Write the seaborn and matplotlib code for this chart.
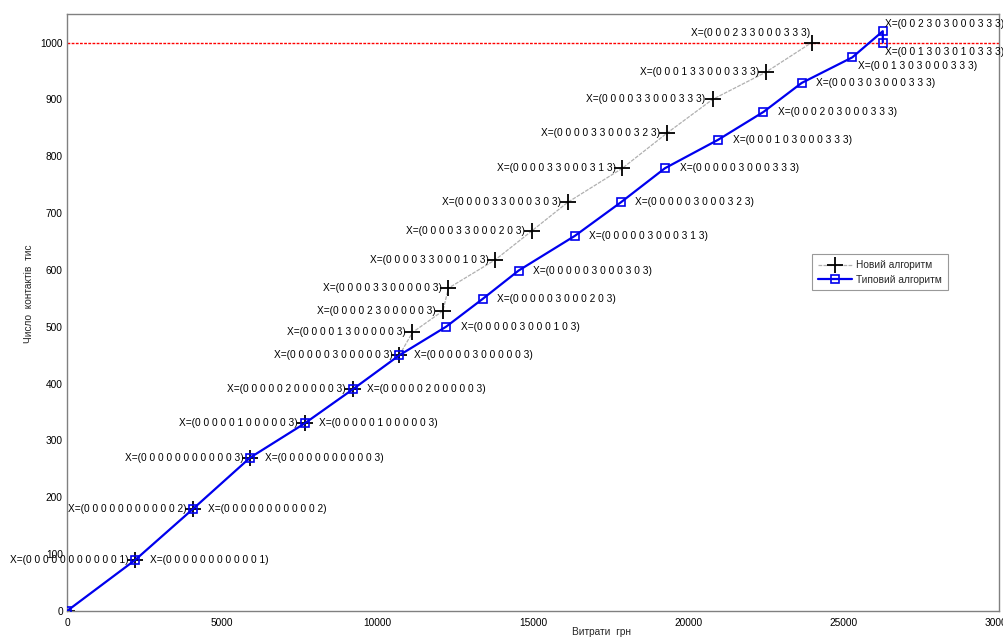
import numpy as np
import pandas as pd
import matplotlib
matplotlib.use("Agg")
import matplotlib.pyplot as plt
import seaborn as sns

# Новий алгоритм (black +, grey line)
new_x = [0, 2200, 4065, 5900, 7650, 9200, 10700, 11120, 12100, 12280,
         13790, 14970, 16120, 17880, 19320, 20780, 22500, 23970]
new_y = [0, 90, 180, 270, 330, 390, 450, 490, 528, 568,
         618, 669, 719, 779, 841, 900, 948, 1000]
new_codes = [None, "000000000001", "000000000002", "000000000003",
             "000001000003", "000002000003", "000003000003", "000013000003",
             "000023000003", "000033000003", "000033000103", "000033000203",
             "000033000303", "000033000313", "000033000323", "000033000333",
             "000133000333", "000233000333"]

# Типовий алгоритм (blue squares)
typ_x = [0, 2200, 4065, 5900, 7650, 9200, 10700, 12200, 13380, 14540,
         16350, 17830, 19250, 20960, 22420, 23650, 25280, 26260, 26260]
typ_y = [0, 90, 180, 270, 330, 390, 450, 500, 549, 599,
         660, 719, 779, 829, 878, 929, 974, 1020, 1000]
typ_codes = [None, "000000000001", "000000000002", "000000000003",
             "000001000003", "000002000003", "000003000003", "000003000103",
             "000003000203", "000003000303", "000003000313", "000003000323",
             "000003000333", "000103000333", "000203000333", "000303000333",
             "001303000333", "002303000333", "001303010333"]

x_ticks = list(range(0, 30001, 5000))
y_ticks = list(range(0, 1001, 100))
limit_y = 1000


def fmt(code):
    return "X=(" + " ".join(code) + ")"


sns.set_theme(style="white")
plt.rcParams["font.family"] = ["Liberation Sans", "DejaVu Sans"]
fs = 7.3

fig = plt.figure(figsize=(10.04, 6.37), dpi=100)
fig.patch.set_facecolor("white")
ax = fig.add_axes([0.0667, 0.0408, 0.9283, 0.937])

df_new = pd.DataFrame({"x": new_x, "y": new_y})
df_typ = pd.DataFrame({"x": typ_x, "y": typ_y})

ax.axhline(limit_y, color="#ff0000", linestyle=(0, (2, 1)), lw=1.0, zorder=1)

sns.lineplot(data=df_new, x="x", y="y", sort=False, estimator=None, ax=ax,
             color="#b0b0b0", lw=0.9, linestyle=(0, (3, 1)), marker="+",
             markersize=11, markeredgecolor="black", markerfacecolor="black",
             markeredgewidth=1.3, label="Новий алгоритм", zorder=2)
sns.lineplot(data=df_typ, x="x", y="y", sort=False, estimator=None, ax=ax,
             color="#0000ee", lw=1.6, marker="s", markersize=5.5,
             markeredgecolor="#0000ee", markerfacecolor="none",
             markeredgewidth=1.2, label="Типовий алгоритм", zorder=3)

# labels for new algorithm: to the left of the marker
for i, (x, y, c) in enumerate(zip(new_x, new_y, new_codes)):
    if c is None:
        continue
    dx, dy = -5, 0
    if i == len(new_x) - 1:
        dx, dy = -1, 7
    ax.annotate(fmt(c), (x, y), xytext=(dx, dy), textcoords="offset points",
                ha="right", va="center", fontsize=fs, color="black")

# labels for typical algorithm: to the right of the marker
special = {16: (4, -6.5), 17: (1.5, 5), 18: (1.5, -6.5)}
for i, (x, y, c) in enumerate(zip(typ_x, typ_y, typ_codes)):
    if c is None:
        continue
    dx, dy = special.get(i, (10.5, 0))
    ax.annotate(fmt(c), (x, y), xytext=(dx, dy), textcoords="offset points",
                ha="left", va="center", fontsize=fs, color="black")

ax.set_xlim(0, 30000)
ax.set_ylim(0, 1050)
ax.set_xticks(x_ticks)
ax.set_yticks(y_ticks)
ax.tick_params(axis="both", direction="in", length=6.5, width=0.8,
               color="#808080", labelsize=fs, labelcolor="black")
ax.tick_params(axis="x", pad=5)
ax.tick_params(axis="y", pad=3)
for s in ax.spines.values():
    s.set_visible(True)
    s.set_color("#808080")
    s.set_linewidth(1)

ax.set_xlabel("Витрати  грн", fontsize=fs)
ax.set_ylabel("Число  контактів  тис", fontsize=fs)
ax.xaxis.set_label_coords(0.573, -0.027)
ax.yaxis.set_label_coords(-0.035, 0.531)

leg = ax.legend(loc="lower left", bbox_to_anchor=(0.794, 0.529), fontsize=fs,
                frameon=True, fancybox=False, handlelength=3.4,
                borderpad=0.55, labelspacing=0.45, handletextpad=0.4)
leg.get_frame().set_edgecolor("#808080")
leg.get_frame().set_linewidth(0.8)

fig.savefig("out.png", dpi=100, facecolor="white")
